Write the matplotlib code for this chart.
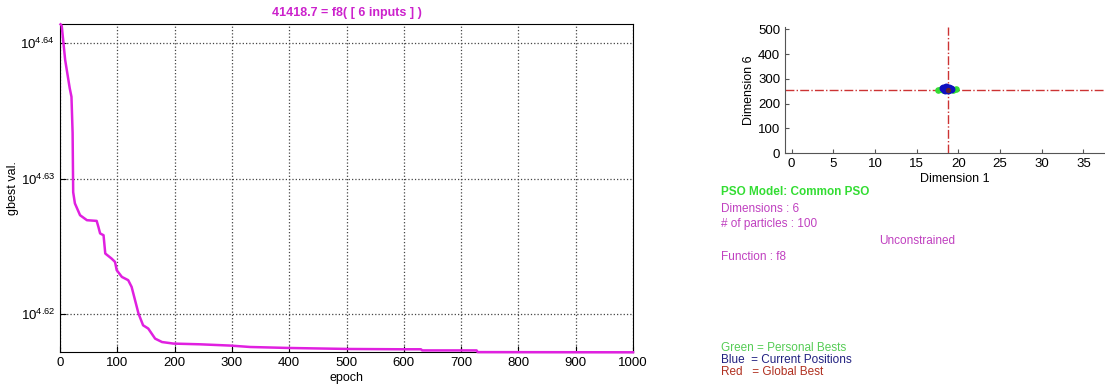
import matplotlib
matplotlib.use("Agg")
import matplotlib.pyplot as plt

plt.rcParams['font.family'] = ['Liberation Sans', 'DejaVu Sans']
plt.rcParams['mathtext.default'] = 'regular'

# gbest history
epochs = [1, 3, 9, 17, 20, 22, 23, 26, 35, 47, 64, 67, 70, 76, 79, 90, 96, 99, 108, 119,
          125, 137, 145, 154, 166, 178, 198, 244, 297, 332, 401, 506, 593, 630, 632, 727,
          729, 1000]
gbest = [43790, 43780, 43526, 43317, 43255, 42990, 42560, 42479, 42394, 42358, 42353,
         42310, 42263, 42250, 42119, 42083, 42059, 42000, 41952, 41929, 41881, 41692,
         41609, 41586, 41515, 41491, 41480, 41475, 41466, 41456, 41449, 41442, 41440,
         41440, 41432, 41432, 41420, 41418.7]
final_val = 41418.7
xticks_left = list(range(0, 1001, 100))
yticks_exp = [4.62, 4.63, 4.64]

# swarm snapshot: dimension 1 vs dimension 6
pbest_d1 = [17.6, 17.9, 18.2, 18.5, 18.8, 19.1, 19.4, 19.7]
pbest_d6 = [257, 259, 256, 258, 257, 259, 256, 258]
pos_d1 = [18.1, 18.3, 18.5, 18.7, 18.9, 19.1, 18.4, 18.8]
pos_d6 = [262, 258, 266, 260, 263, 259, 255, 257]
gbest_d1 = 18.7
gbest_d6 = 255
xticks_right = [0, 5, 10, 15, 20, 25, 30, 35]
yticks_right = [0, 100, 200, 300, 400, 500]

W, H = 1105, 387
fig = plt.figure(figsize=(W / 100, H / 100), dpi=100)

# ---- left: convergence plot
ax = fig.add_axes([60 / W, 1 - 352.3 / H, 573 / W, (352.3 - 24) / H])
ax.plot(epochs, gbest, color='#e020e0', lw=1.8, clip_on=False, zorder=3)
ax.set_yscale('log')
ax.set_xlim(0, 1000)
ax.set_ylim(final_val, 10 ** 4.6414)
ax.set_xticks(xticks_left)
ax.set_yticks([10 ** e for e in yticks_exp])
ax.set_yticklabels(['$10^{%.2f}$' % e for e in yticks_exp])
ax.yaxis.set_minor_locator(matplotlib.ticker.NullLocator())
ax.grid(True, linestyle=':', color='#444444', lw=0.9)
ax.tick_params(direction='in', labelsize=9.5, length=4)
ax.set_xlabel('epoch', fontsize=9, labelpad=2)
ax.set_ylabel('gbest val.', fontsize=9, labelpad=1)
ax.set_title('41418.7 = f8( [ 6 inputs ] )', color='#cc22cc', fontsize=9,
             fontweight='bold', pad=6)

# ---- right: particle positions
ax2 = fig.add_axes([785 / W, 1 - 153.3 / H, 340 / W, (153.3 - 27.3) / H])
ax2.axvline(gbest_d1, color='#cc3333', ls='-.', lw=1.0)
ax2.axhline(gbest_d6, color='#cc3333', ls='-.', lw=1.0)
ax2.scatter(pbest_d1, pbest_d6, s=14, color='#33dd33', zorder=3)
ax2.scatter(pos_d1, pos_d6, s=22, color='#1010c0', zorder=4)
ax2.scatter([gbest_d1], [gbest_d6], s=8, color='#6a2030', zorder=5)
ax2.set_xlim(-0.8, 40)
ax2.set_ylim(0, 508)
ax2.set_xticks(xticks_right)
ax2.set_yticks(yticks_right)
ax2.spines['top'].set_visible(False)
ax2.spines['right'].set_visible(False)
for s in ['left', 'bottom']:
    ax2.spines[s].set_color('#555555')
ax2.tick_params(direction='in', labelsize=9.5, length=3, color='#555555')
ax2.set_xlabel('Dimension 1', fontsize=9, labelpad=2)
ax2.set_ylabel('Dimension 6', fontsize=9, labelpad=2)

# ---- info text
def ft(x, y, s, **kw):
    fig.text(x / W, 1 - y / H, s, va='center', ha='left', fontsize=8.5, **kw)

ft(721, 192, 'PSO Model: Common PSO', color='#33dd33', fontweight='bold')
ft(721, 209, 'Dimensions : 6', color='#c040c0')
ft(721, 224, '# of particles : 100', color='#c040c0')
ft(879, 241, 'Unconstrained', color='#c040c0')
ft(721, 257, 'Function : f8', color='#c040c0')
ft(721, 348, 'Green = Personal Bests', color='#55cc55')
ft(721, 360, 'Blue  = Current Positions', color='#202080')
ft(721, 372, 'Red   = Global Best', color='#b03020')

fig.savefig('out.png', dpi=100)
